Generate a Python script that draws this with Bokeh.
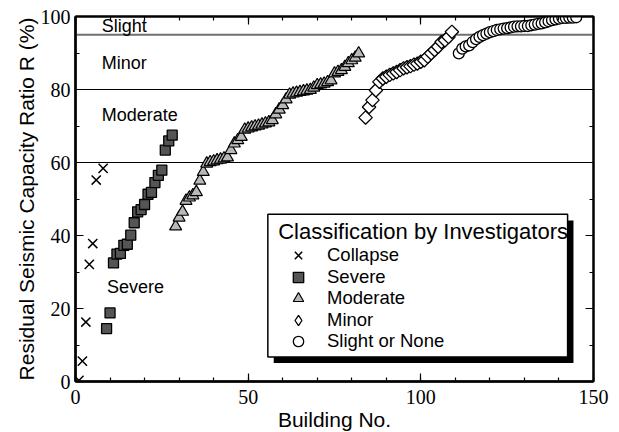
import math
from bokeh.plotting import figure
from bokeh.models import (Range1d, LinearAxis, FixedTicker, Span, Label, Legend,
                          LegendItem, BoxAnnotation)
from bokeh.embed import file_html
from bokeh.resources import INLINE

# ---------------- data ----------------
collapse_no = [1, 2, 3, 4, 5, 6, 8]
collapse_r = [0.3, 5.6, 16.3, 32.1, 37.8, 55.2, 58.4]

severe_no = list(range(9, 29))
severe_r = [14.5, 18.8, 32.5, 34.9, 35.1, 37.3, 37.6, 40.1, 43.5, 46.5,
            47.1, 48.5, 51.3, 51.8, 54.5, 56.5, 57.9, 63.4, 65.9, 67.5]

moderate_no = list(range(29, 83))
moderate_r = [42.5, 44.9, 46.5, 49.5, 50.4, 51.0, 51.9, 55.0, 57.4, 59.7,
              60.1, 60.3, 60.6, 60.8, 61.1, 61.4, 63.4, 65.2, 66.1, 67.0,
              69.0, 69.3, 69.6, 69.9, 70.1, 70.4, 70.7, 71.0, 71.6, 73.2,
              74.5, 75.7, 77.3, 78.6, 78.9, 79.1, 79.3, 79.5, 79.7, 79.9,
              80.5, 81.2, 81.4, 81.6, 82.0, 82.5, 84.4, 84.8, 85.3, 86.2,
              87.2, 88.0, 88.7, 89.9]

minor_no = list(range(84, 110))
minor_r = [72.3, 75.2, 77.1, 79.8, 82.1, 83.0, 83.5, 84.0, 84.4, 84.8,
           85.3, 85.8, 86.1, 86.4, 86.8, 87.1, 87.6, 88.0, 89.0, 89.9,
           90.8, 91.7, 93.0, 93.5, 94.4, 95.8]

slight_no = list(range(111, 146))
slight_r = [89.9, 91.2, 91.8, 92.1, 93.0, 93.8, 94.4, 94.9, 95.3, 95.7,
            96.0, 96.3, 96.5, 96.7, 96.8, 97.0, 97.2, 97.3, 97.3, 97.4,
            97.4, 97.6, 97.8, 98.0, 98.1, 98.4, 98.7, 99.0, 99.2, 99.4,
            99.6, 99.6, 99.7, 99.7, 99.8]

class_labels = ["Collapse", "Severe", "Moderate", "Minor", "Slight or None"]
legend_title = "Classification by Investigators"

boundary_levels = [60, 80, 95]
region_names = ["Slight", "Minor", "Moderate", "Severe"]
region_x = [7.6, 7.6, 7.6, 9.1]
region_y = [97.3, 87.3, 73.0, 25.9]

x_major = [0, 50, 100, 150]
x_minor = list(range(0, 151, 10))
y_major = [0, 20, 40, 60, 80, 100]
y_minor = list(range(0, 101, 10))

x_title = "Building No."
y_title = "Residual Seismic Capacity Ratio R (%)"

SANS = "Liberation Sans"
SERIF = "Liberation Serif"

# ---------------- figure ----------------
p = figure(x_range=Range1d(0, 150), y_range=Range1d(0, 100),
           frame_width=518, frame_height=365,
           min_border_left=75, min_border_right=25,
           min_border_top=16, min_border_bottom=50,
           x_axis_label=x_title, y_axis_label=y_title,
           output_backend="svg", toolbar_location=None)
p.xgrid.visible = False
p.ygrid.visible = False
p.outline_line_color = "black"
p.outline_line_width = 2
p.background_fill_color = "white"
p.border_fill_color = "white"


def style_axis(ax, ticks, minors, show_labels, width):
    ax.ticker = FixedTicker(ticks=ticks, minor_ticks=minors)
    ax.axis_line_width = width
    ax.axis_line_color = "black"
    ax.major_tick_in = 8
    ax.major_tick_out = 0
    ax.minor_tick_in = 4
    ax.minor_tick_out = 0
    ax.major_tick_line_width = 1.2
    ax.minor_tick_line_width = 1.2
    ax.major_label_text_font = SERIF
    ax.major_label_text_color = "black"
    ax.major_label_text_font_size = "20px"
    ax.axis_label_text_font = SANS
    ax.axis_label_text_font_size = "21px"
    ax.axis_label_text_font_style = "normal"
    ax.axis_label_text_color = "black"
    if not show_labels:
        ax.major_label_overrides = {t: "" for t in ticks}
        ax.major_label_standoff = 0


style_axis(p.xaxis[0], x_major, x_minor, True, 2.5)
style_axis(p.yaxis[0], y_major, y_minor, True, 2.5)
p.xaxis[0].major_label_standoff = 8
p.xaxis[0].axis_label_standoff = 1
p.yaxis[0].major_label_standoff = 5
p.yaxis[0].axis_label_standoff = 0

top_ax = LinearAxis()
style_axis(top_ax, x_major, x_minor, False, 2)
p.add_layout(top_ax, "above")
right_ax = LinearAxis()
style_axis(right_ax, y_major, y_minor, False, 2)
p.add_layout(right_ax, "right")

# boundary lines
for lev in boundary_levels:
    col = "#707070" if lev == 95 else "black"
    lw = 2 if lev == 95 else 1.2
    p.add_layout(Span(location=lev, dimension="width", line_color=col,
                      line_width=lw, level="underlay"))

# region texts
for name, rx, ry in zip(region_names, region_x, region_y):
    p.add_layout(Label(x=rx, y=ry, text=name, text_font=SANS, text_font_size="18px",
                       text_color="black", text_baseline="middle", text_align="left"))

# data
r_col = p.scatter(collapse_no, collapse_r, marker="x", size=13,
                  line_color="black", line_width=1.5)
r_sev = p.scatter(severe_no, severe_r, marker="square", size=10,
                  fill_color="#555555", line_color="black", line_width=1.3)
r_mod = p.scatter(moderate_no, moderate_r, marker="triangle", size=12,
                  fill_color="#b8b8b8", line_color="black", line_width=1.2)
# diamond key for the legend, drawn underneath the rotated squares
r_min_key = p.scatter(minor_no, minor_r, marker="diamond", size=11,
                      fill_color="white", line_color="black", line_width=1.3)
r_min = p.scatter(minor_no, minor_r, marker="square", angle=math.pi / 4, size=9.5,
                  fill_color="white", line_color="black", line_width=1.3)
r_sli = p.scatter(slight_no, slight_r, marker="circle", size=11,
                  fill_color="white", line_color="black", line_width=1.3)

# legend frame with shadow (data units)
p.add_layout(BoxAnnotation(left=57.4, right=144.2, bottom=5.1, top=44.1,
                           fill_color="black", fill_alpha=1, line_alpha=0))
p.add_layout(BoxAnnotation(left=55.7, right=142.5, bottom=6.7, top=45.8,
                           fill_color="white", fill_alpha=1,
                           line_color="black", line_width=1.5, line_alpha=1))
p.add_layout(Label(x=58.7, y=41.0, text=legend_title, text_font=SANS,
                   text_font_size="22px", text_color="black",
                   text_baseline="middle", text_align="left"))

renderers = [r_col, r_sev, r_mod, r_min_key, r_sli]
items = [LegendItem(label=l, renderers=[r]) for l, r in zip(class_labels, renderers)]


def make_legend(its, y):
    return Legend(items=its, location=(202, y), padding=0, spacing=17, margin=0,
                  glyph_width=42, glyph_height=26, label_height=26, label_standoff=8,
                  label_text_font=SANS, label_text_font_size="18.5px",
                  label_text_color="black", border_line_alpha=0,
                  background_fill_alpha=0)


# rows interleaved over two legends so the line pitch matches the original
p.add_layout(make_legend(items[0::2], 27))
p.add_layout(make_legend(items[1::2], 48))

open("out.html", "w").write(file_html(p, INLINE))
